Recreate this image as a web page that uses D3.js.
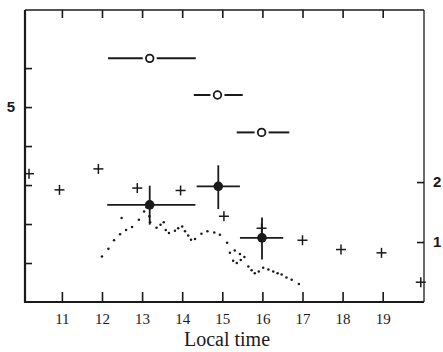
<!DOCTYPE html>
<html>
<head>
<meta charset="utf-8">
<script src="https://cdn.jsdelivr.net/npm/d3@7"></script>
<style>
  body { margin: 0; background: #fff; }
  svg { display: block; }
</style>
</head>
<body>
<div id="chart"></div>
<script>
// hourly ticks on the time axis
const hourTicks = [11, 12, 13, 14, 15, 16, 17, 18, 19];
const leftTicks = [1, 2, 3, 4, 5, 6];
const rightTicks = [1, 2];

// open circles (left scale): centre time, value, bar start, bar end
const openT = [13.19, 14.88, 15.98];
const openV = [6.25, 5.31, 4.35];
const openLo = [12.15, 14.29, 15.36];
const openHi = [14.34, 15.51, 16.67];

// filled circles with error crosses (right scale)
const fillT = [13.19, 14.90, 15.99];
const fillV = [1.62, 1.93, 1.07];
const fillTLo = [12.13, 14.36, 15.44];
const fillTHi = [14.33, 15.44, 16.52];
const fillVLo = [1.29, 1.55, 0.71];
const fillVHi = [1.94, 2.28, 1.41];

// crosses (right scale)
const plusT = [10.18, 10.94, 11.91, 12.88, 13.96, 15.04, 15.98, 17.0, 17.96, 18.97, 19.95];
const plusV = [2.14, 1.87, 2.22, 1.90, 1.86, 1.43, 1.23, 1.03, 0.875, 0.82, 0.33];

// dotted trace (right scale)
const dotT = [12.00, 12.16, 12.30, 12.45, 12.60, 12.75, 12.92, 12.49, 13.05, 13.11, 13.18, 13.20,
  13.36, 13.46, 13.54, 13.59, 13.67, 13.82, 13.90, 14.00, 14.07, 14.15, 14.22, 14.32, 14.48,
  14.63, 14.80, 14.94, 15.12, 15.19, 15.31, 15.44, 15.27, 15.36, 15.46, 15.55, 15.65, 15.73,
  15.81, 15.91, 16.02, 16.15, 16.27, 16.38, 16.48, 16.60, 16.73, 16.91];
const dotV = [0.76, 0.89, 1.03, 1.13, 1.20, 1.25, 1.37, 1.40, 1.51, 1.58, 1.43, 1.33,
  1.24, 1.29, 1.33, 1.20, 1.15, 1.19, 1.23, 1.26, 1.18, 1.11, 1.04, 1.05, 1.14,
  1.18, 1.16, 1.12, 0.99, 0.82, 0.86, 0.80, 0.69, 0.65, 0.70, 0.75, 0.59, 0.53,
  0.48, 0.51, 0.57, 0.54, 0.51, 0.48, 0.46, 0.41, 0.37, 0.30];

const width = 443, height = 352;
const ink = '#1a1a1a';
const box = { left: 25, right: 424, top: 10, bottom: 302 };

const svg = d3.select('#chart').append('svg')
  .attr('width', width)
  .attr('height', height);

const x = d3.scaleLinear().domain([10.08, 20.03]).range([box.left, box.right]);
const yL = d3.scaleLinear().domain([0, 7.49]).range([box.bottom, box.top]);
const yR = d3.scaleLinear().domain([0, 4.87]).range([box.bottom, box.top]);

function styleAxis(g) {
  g.select('.domain').remove();
  g.selectAll('.tick line').attr('stroke', ink).attr('stroke-width', 1.6);
  g.selectAll('.tick text').attr('fill', ink);
}

svg.append('g')
  .attr('transform', `translate(0,${box.bottom})`)
  .call(d3.axisBottom(x).tickValues(hourTicks).tickSize(-10).tickPadding(11))
  .call(styleAxis)
  .selectAll('text')
  .style('font-family', '"Liberation Serif", serif')
  .style('font-size', '15px');

svg.append('g')
  .attr('transform', `translate(0,${box.top})`)
  .call(d3.axisTop(x).tickValues(hourTicks).tickSize(-8).tickFormat(''))
  .call(styleAxis);

svg.append('g')
  .attr('transform', `translate(${box.left},0)`)
  .call(d3.axisLeft(yL).tickValues(leftTicks).tickSize(-7).tickPadding(10)
    .tickFormat(d => (d === 5 ? '5' : '')))
  .call(styleAxis)
  .selectAll('text')
  .style('font-family', '"Liberation Sans", Arial, sans-serif')
  .style('font-weight', 'bold')
  .style('font-size', '15px');

svg.append('g')
  .attr('transform', `translate(${box.right},0)`)
  .call(d3.axisRight(yR).tickValues(rightTicks).tickSize(-7).tickPadding(9)
    .tickFormat(d3.format('d')))
  .call(styleAxis)
  .selectAll('text')
  .style('font-family', '"Liberation Sans", Arial, sans-serif')
  .style('font-weight', 'bold')
  .style('font-size', '15px');

// frame: heavier on left and bottom
const frame = svg.append('g').attr('stroke', ink).attr('fill', 'none');
frame.append('line').attr('x1', box.left).attr('x2', box.left)
  .attr('y1', box.top).attr('y2', box.bottom + 1).attr('stroke-width', 2.2);
frame.append('line').attr('x1', box.left).attr('x2', box.right)
  .attr('y1', box.bottom).attr('y2', box.bottom).attr('stroke-width', 2.2);
frame.append('line').attr('x1', box.left).attr('x2', box.right)
  .attr('y1', box.top).attr('y2', box.top).attr('stroke-width', 1.6);
frame.append('line').attr('x1', box.right).attr('x2', box.right)
  .attr('y1', box.top).attr('y2', box.bottom).attr('stroke-width', 1.3);

// dotted trace
svg.append('g').selectAll('circle')
  .data(dotT)
  .enter()
  .append('circle')
  .attr('cx', (d) => x(d))
  .attr('cy', (d, i) => yR(dotV[i]))
  .attr('r', 1.25)
  .attr('fill', ink);

// open circles with horizontal bars
const openG = svg.append('g');
openT.forEach((t, i) => {
  const cx = x(t), cy = yL(openV[i]);
  openG.append('line')
    .attr('x1', x(openLo[i])).attr('x2', cx - 7)
    .attr('y1', cy).attr('y2', cy)
    .attr('stroke', ink).attr('stroke-width', 2);
  openG.append('line')
    .attr('x1', cx + 7).attr('x2', x(openHi[i]))
    .attr('y1', cy).attr('y2', cy)
    .attr('stroke', ink).attr('stroke-width', 2);
  openG.append('circle')
    .attr('cx', cx).attr('cy', cy).attr('r', 3.8)
    .attr('fill', '#fff').attr('stroke', ink).attr('stroke-width', 1.8);
});

// filled circles with error crosses
const fillG = svg.append('g').attr('stroke', ink).attr('stroke-width', 1.8);
fillT.forEach((t, i) => {
  const cx = x(t), cy = yR(fillV[i]);
  fillG.append('line')
    .attr('x1', x(fillTLo[i])).attr('x2', x(fillTHi[i]))
    .attr('y1', cy).attr('y2', cy);
  fillG.append('line')
    .attr('x1', cx).attr('x2', cx)
    .attr('y1', yR(fillVLo[i])).attr('y2', yR(fillVHi[i]));
  fillG.append('circle')
    .attr('cx', cx).attr('cy', cy).attr('r', 4.8)
    .attr('fill', ink).attr('stroke', 'none');
});

// crosses
const plusG = svg.append('g').attr('stroke', ink).attr('stroke-width', 1.5);
plusT.forEach((t, i) => {
  const cx = x(t), cy = yR(plusV[i]);
  plusG.append('line').attr('x1', cx - 5).attr('x2', cx + 5).attr('y1', cy).attr('y2', cy);
  plusG.append('line').attr('x1', cx).attr('x2', cx).attr('y1', cy - 5).attr('y2', cy + 5);
});

svg.append('text')
  .attr('x', 227)
  .attr('y', 346)
  .attr('text-anchor', 'middle')
  .attr('fill', ink)
  .style('font-family', '"Liberation Serif", "Times New Roman", serif')
  .style('font-size', '20px')
  .text('Local time');
</script>
</body>
</html>
